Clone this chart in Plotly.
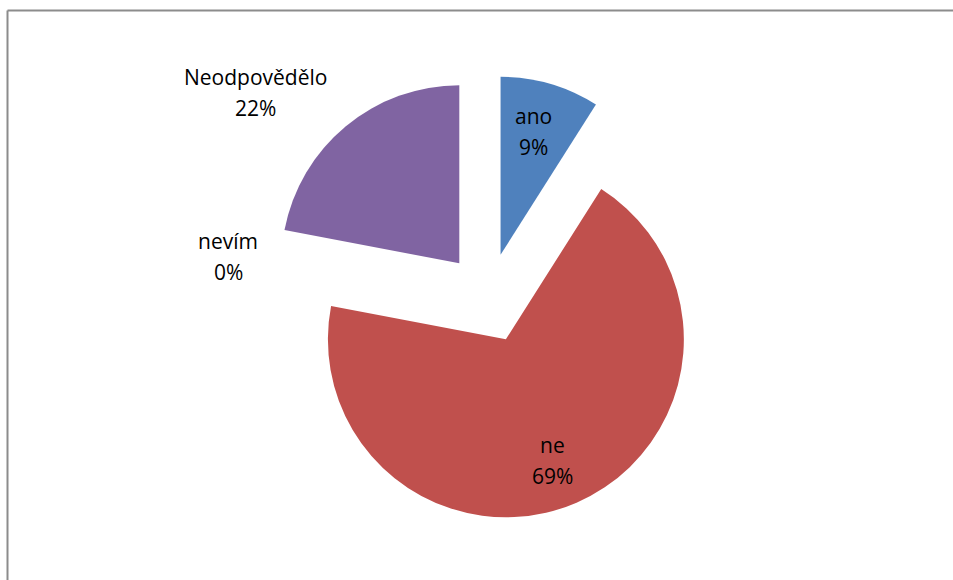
import plotly.graph_objects as go

labels = ["ano", "ne", "nevím", "Neodpovědělo"]
values = [9, 69, 0, 22]
colors = ["#4F81BD", "#C0504D", "#9BBB59", "#8064A2"]
pct_text = ["9%", "69%", "0%", "22%"]

W, H = 953, 580
FONT = "Open Sans"
FS = 21

fig = go.Figure()
fig.add_trace(go.Pie(
    labels=labels,
    values=values,
    sort=False,
    direction="clockwise",
    rotation=0,
    pull=[0.253] * len(values),
    marker=dict(colors=colors, line=dict(width=0)),
    textinfo="none",
    hoverinfo="label+percent",
    showlegend=False,
    domain=dict(x=[265 / W, 711 / W], y=[1 - 521 / H, 1 - 75 / H]),
))

# label positions (center x, baseline of first line) in pixels
label_pos = [(533, 123), (552, 452), (228, 248), (255, 84)]
line_gap = 31
for name, pct, (cx, by) in zip(labels, pct_text, label_pos):
    for i, t in enumerate([name, pct]):
        b = by + i * line_gap
        fig.add_annotation(
            x=cx / W, y=1 - b / H, xref="paper", yref="paper",
            text=t, showarrow=False, xanchor="center", yanchor="bottom",
            yshift=-9,
            font=dict(family=FONT, size=FS, color="#000000"),
        )

# chart-area border (left and top edges visible)
fig.add_shape(type="line", xref="paper", yref="paper",
              x0=7.5 / W, x1=7.5 / W, y0=0, y1=1 - 10.5 / H,
              line=dict(color="#8C8C8C", width=2))
fig.add_shape(type="line", xref="paper", yref="paper",
              x0=7.5 / W, x1=1, y0=1 - 10.5 / H, y1=1 - 10.5 / H,
              line=dict(color="#8C8C8C", width=2))

fig.update_layout(
    width=W, height=H,
    margin=dict(l=0, r=0, t=0, b=0),
    paper_bgcolor="white", plot_bgcolor="white",
    font=dict(family=FONT),
)

fig.write_html(
    "out.html",
    config={"displayModeBar": False},
    post_script="document.body.style.margin='0';document.body.style.overflow='hidden';",
)
